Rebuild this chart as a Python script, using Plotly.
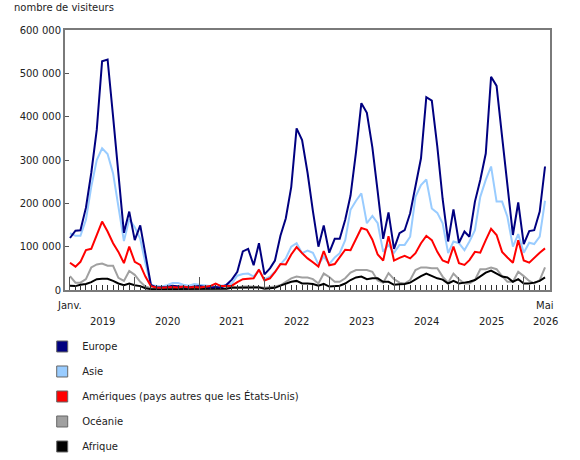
import pandas as pd
import plotly.graph_objects as go

# Monthly data, January 2019 to May 2026 (thousands of visitors)
months = pd.date_range("2019-01-01", periods=89, freq="MS")

europe = [120, 137, 138, 190, 270, 370, 528, 532, 400, 262, 132, 181,
          115, 149, 80, 12, 6, 6, 7, 10, 9, 8, 6, 8,
          9, 7, 6, 7, 6, 12, 24, 42, 89, 95, 57, 108,
          36, 50, 68, 125, 165, 238, 373, 346, 270, 182, 100, 149,
          86, 118, 118, 162, 218, 319, 431, 409, 329, 227, 118, 179,
          95, 131, 138, 177, 242, 304, 445, 437, 331, 210, 112, 186,
          109, 135, 123, 204, 254, 315, 492, 471, 354, 238, 127, 202,
          106, 136, 138, 181, 285]

asie = [131, 125, 125, 162, 238, 300, 327, 314, 269, 192, 113, 163,
        145, 118, 62, 11, 9, 8, 11, 16, 16, 12, 10, 14,
        12, 10, 9, 13, 10, 12, 15, 33, 37, 38, 31, 46,
        25, 31, 42, 59, 73, 100, 108, 85, 91, 86, 59, 77,
        60, 75, 85, 115, 185, 206, 223, 154, 171, 154, 88, 104,
        86, 104, 104, 123, 215, 242, 255, 188, 178, 154, 85, 112,
        108, 92, 112, 138, 215, 254, 285, 204, 204, 169, 100, 129,
        86, 109, 106, 123, 206]

ameriques = [63, 54, 65, 92, 95, 127, 158, 135, 108, 88, 62, 100,
             65, 58, 31, 9, 6, 5, 6, 7, 6, 8, 6, 7,
             6, 7, 9, 15, 9, 9, 10, 18, 25, 26, 27, 47,
             22, 27, 41, 60, 59, 82, 99, 85, 73, 64, 54, 90,
             57, 60, 77, 93, 92, 117, 143, 139, 116, 82, 68, 124,
             68, 74, 79, 73, 85, 108, 125, 115, 88, 68, 63, 100,
             62, 58, 69, 88, 86, 115, 141, 127, 88, 75, 63, 115,
             68, 63, 75, 86, 96]

oceanie = [32, 17, 17, 25, 52, 59, 61, 56, 56, 28, 21, 44,
           35, 19, 8, 4, 3, 3, 3, 4, 4, 3, 3, 4,
           3, 3, 3, 4, 4, 5, 8, 6, 8, 8, 8, 7,
           5, 6, 8, 11, 19, 27, 31, 29, 29, 25, 15, 38,
           30, 19, 19, 27, 40, 46, 46, 46, 42, 22, 17, 39,
           25, 17, 15, 23, 46, 52, 52, 50, 50, 31, 17, 38,
           25, 15, 15, 23, 48, 48, 52, 48, 32, 19, 19, 42,
           32, 21, 15, 23, 52]

afrique = [10, 9, 12, 14, 18, 25, 26, 26, 21, 15, 11, 15,
           11, 9, 4, 2, 2, 2, 2, 2, 2, 2, 2, 2,
           2, 2, 2, 3, 3, 3, 5, 5, 5, 5, 5, 6,
           3, 4, 5, 10, 14, 19, 21, 15, 15, 14, 10, 14,
           8, 9, 10, 15, 23, 29, 31, 25, 27, 27, 19, 19,
           12, 13, 14, 17, 25, 32, 38, 32, 27, 24, 15, 21,
           15, 17, 19, 23, 31, 40, 45, 37, 31, 29, 19, 25,
           15, 15, 17, 21, 29]

series_names = ["Europe", "Asie", "Amériques (pays autres que les États-Unis)",
                "Océanie", "Afrique"]
series_values = [europe, asie, ameriques, oceanie, afrique]
series_colors = ["#000080", "#99ccff", "#ff0000", "#a0a0a0", "#000000"]
draw_order = [3, 4, 1, 0, 2]

year_ticks = ["2019-01-01", "2020-01-01", "2021-01-01", "2022-01-01", "2023-01-01",
              "2024-01-01", "2025-01-01", "2026-01-01"]
year_label_pos = ["2019-07-01", "2020-07-01", "2021-07-01", "2022-07-01", "2023-07-01",
                  "2024-07-01", "2025-07-01", "2026-05-01"]
year_labels = ["2019", "2020", "2021", "2022", "2023", "2024", "2025", "2026"]
month_label_pos = ["2019-01-01", "2026-05-01"]
month_labels = ["Janv.", "Mai"]
y_ticks = [0, 100000, 200000, 300000, 400000, 500000, 600000]

FONT = "DejaVu Sans"
TXT = "#222222"

fig = go.Figure()
for i in draw_order:
    fig.add_trace(go.Scatter(
        x=months, y=[v * 1000 for v in series_values[i]],
        mode="lines", line=dict(color=series_colors[i], width=2),
        name=series_names[i], showlegend=False, hoverinfo="skip"))

for name, color in zip(series_names, series_colors):
    fig.add_trace(go.Scatter(
        x=[None], y=[None], mode="markers", name=name, legendgroup=name,
        marker=dict(symbol="square", size=11, color=color,
                    line=dict(color="#666666", width=1))))

annotations = [dict(text="nombre de visiteurs", xref="paper", yref="paper",
                    x=-0.109, y=1.085, xanchor="left", yanchor="middle",
                    showarrow=False, font=dict(family=FONT, size=10, color=TXT))]
for pos, lab in zip(year_label_pos, year_labels):
    annotations.append(dict(text=lab, xref="x", yref="paper", x=pos, y=-0.12,
                            xanchor="center", yanchor="middle", showarrow=False,
                            font=dict(family=FONT, size=10, color=TXT)))
for pos, lab in zip(month_label_pos, month_labels):
    annotations.append(dict(text=lab, xref="x", yref="paper", x=pos, y=-0.058,
                            xanchor="center", yanchor="middle", showarrow=False,
                            font=dict(family=FONT, size=10, color=TXT)))

fig.update_layout(
    width=580, height=460,
    margin=dict(l=65, r=30, t=30, b=170, autoexpand=False),
    paper_bgcolor="white", plot_bgcolor="white",
    separators=", ",
    font=dict(family=FONT, size=10, color=TXT),
    showlegend=True,
    legend=dict(x=-0.047, y=-0.1615, xanchor="left", yanchor="top",
                orientation="v", tracegroupgap=6,
                font=dict(family=FONT, size=10, color=TXT),
                bgcolor="rgba(0,0,0,0)"),
    annotations=annotations,
    xaxis=dict(type="date", range=["2018-12-04", "2026-05-29"],
               tickmode="array", tickvals=year_ticks, showticklabels=False,
               ticks="inside", ticklen=13, tickwidth=1, tickcolor="#555555",
               minor=dict(ticks="inside", ticklen=5, tickwidth=1, tickcolor="#333333",
                          dtick="M1", tick0="2019-01-01", showgrid=False),
               showgrid=False, zeroline=False,
               showline=True, linecolor="#7a7a7a", linewidth=2, mirror=True),
    yaxis=dict(range=[0, 600000], tickmode="array", tickvals=y_ticks,
               tickformat=",d", ticks="inside", ticklen=4, tickcolor="#555555",
               showgrid=False, zeroline=False,
               showline=True, linecolor="#7a7a7a", linewidth=2, mirror=True,
               tickfont=dict(family=FONT, size=10, color=TXT)),
)

fig.write_html("out.html")
